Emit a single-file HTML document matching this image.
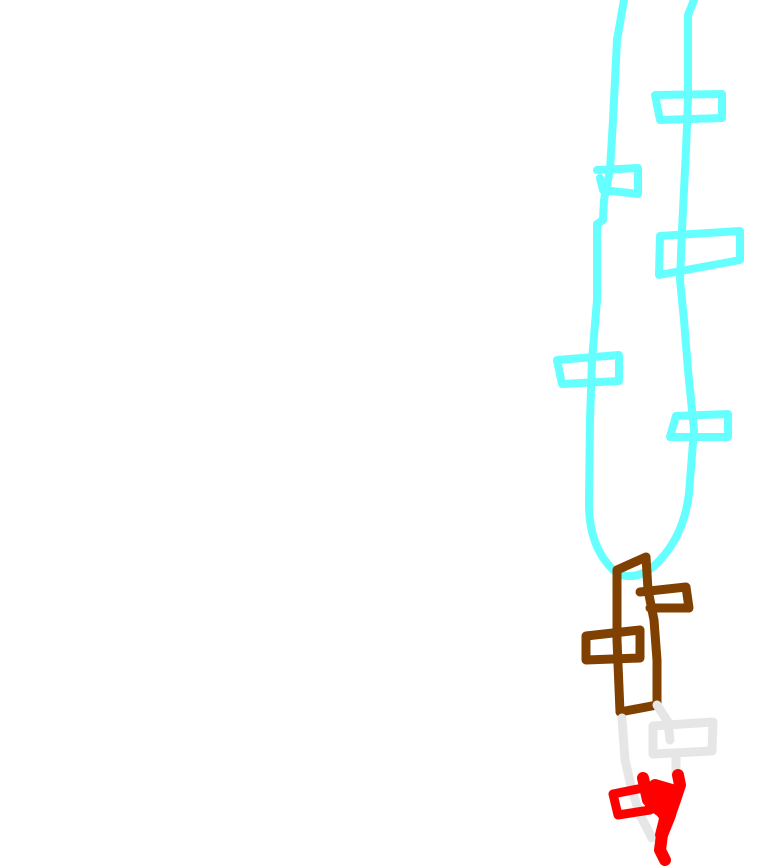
<!DOCTYPE html>
<html><head><style>html,body{margin:0;padding:0;background:#fff;width:768px;height:866px;overflow:hidden}</style></head>
<body>
<svg width="768" height="866" viewBox="0 0 768 866" xmlns="http://www.w3.org/2000/svg" fill="none" stroke-linecap="round" stroke-linejoin="round" stroke-width="8">
<g stroke="#66ffff">
<path d="M624,0 L617,40 L613,120 L610,170 L604,200 L603,220 L597,224 L597,300 L592,360 L590,420 L589,500 Q588,550 618,574 Q640,582 660,560 Q688,530 690,480 L694,430 L688,370 L684,320 L680,280 L682,230 L686,150 L688,100 L688,15 L694,0"/>
<path d="M655,95 L722,94 L722,118 L660,120 Z"/>
<path d="M597,170 L638,168 L638,194 L603,190 L600,178"/>
<path d="M660,236 L740,231 L740,260 L659,275 Z"/>
<path d="M557,360 L619,355 L619,381 L562,384 Z"/>
<path d="M676,416 L728,414 L728,437 L670,437 Z"/>
</g>
<g stroke="#804000" stroke-width="9">
<path d="M620,712 L617,640 L617,570 L646,557 L648,590 L654,620 L657,660 L657,705 L620,712"/>
<path d="M640,592 L686,587 L689,608 L650,608"/>
<path d="M586,636 L640,630 L640,658 L586,660 Z"/>
</g>
<g stroke="#e6e6e6" stroke-width="9">
<path d="M622,718 L625,760 L632,790 L640,815 L652,838"/>
<path d="M657,705 L668,722 L670,740"/>
<path d="M653,726 L713,722 L712,751 L653,754 Z"/>
<path d="M676,754 L676,775"/>
</g>
<g stroke="#ff0000">
<path d="M613,794 L648,787 L650,810 L618,815 Z" stroke-width="9"/>
<path d="M643,778 L648,800 L660,790 L660,810 L668,820 L675,800 L680,785 L678,775" stroke-width="12"/>
<path d="M655,785 L672,790 L670,815 L662,835 L660,850 L665,860" stroke-width="12"/>
<path d="M650,805 L665,815 L660,835 L670,800 L678,790" stroke-width="10"/>
</g>
</svg>
</body></html>
